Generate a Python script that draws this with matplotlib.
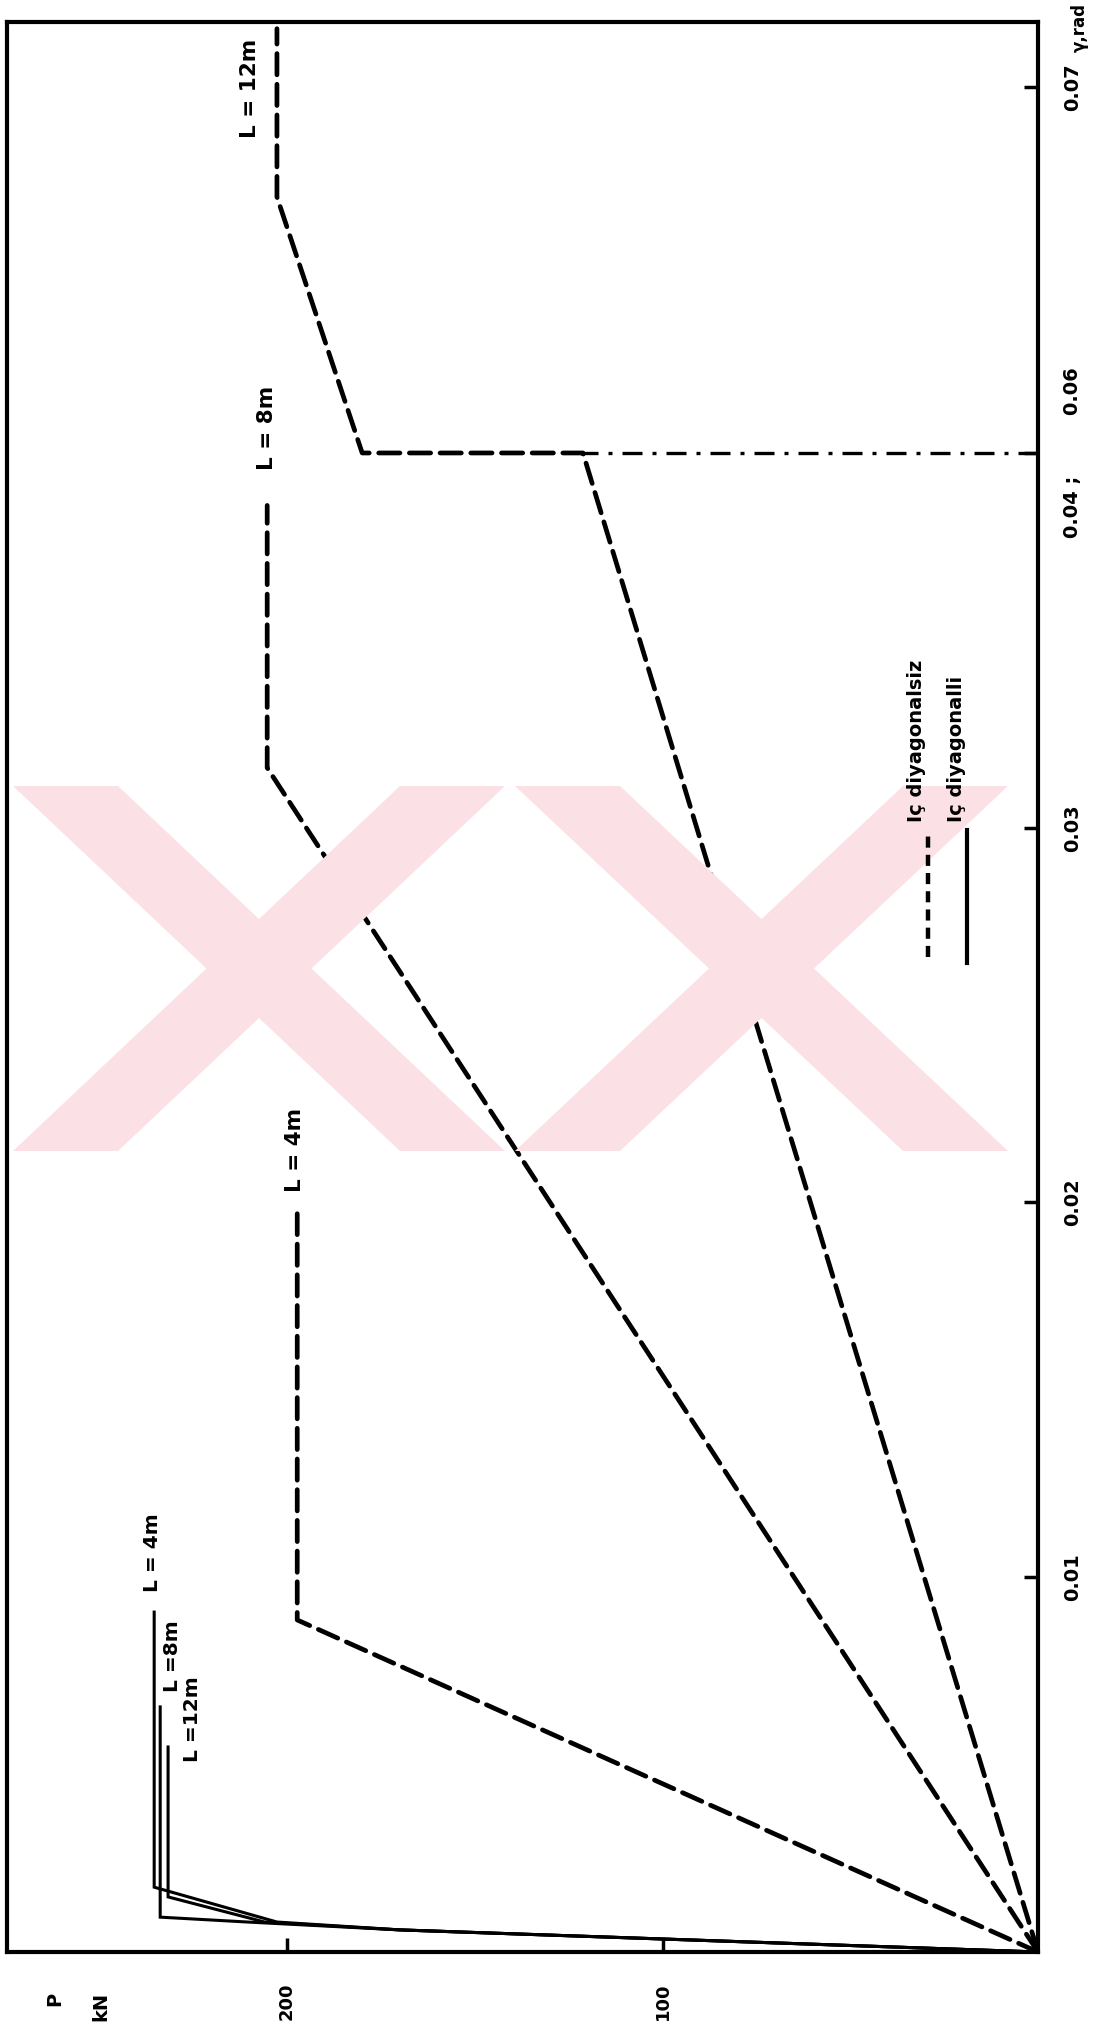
import numpy as np
import matplotlib
matplotlib.use("Agg")
import matplotlib.pyplot as plt
from matplotlib.patches import Polygon
from matplotlib.lines import Line2D

W, H = 1103, 2027
plt.rcParams["font.family"] = ["DejaVu Sans"]
plt.rcParams["font.weight"] = "bold"

# Shear strain gamma (rad) and load P (kN)
# Iç diyagonalsiz (dashed curves)
gamma_d_4m = [0.0, 0.00886, 0.0197]
load_d_4m = [0.0, 197.3, 197.3]
gamma_d_8m = [0.0, 0.0316, 0.0386]
load_d_8m = [0.0, 205.3, 205.3]
gamma_d_12m = [0.0, 0.0400, 0.0600, 0.0670, 0.0716]
load_d_12m = [0.0, 121.2, 180.0, 202.7, 202.7]

# Iç diyagonalli (solid curves)
gamma_s_4m = [0.0, 0.00059, 0.0008, 0.00173, 0.00907]
load_s_4m = [0.0, 170.0, 202.7, 235.4, 235.4]
gamma_s_8m = [0.0, 0.00059, 0.0008, 0.00093, 0.00654]
load_s_8m = [0.0, 170.0, 210.6, 233.8, 233.8]
gamma_s_12m = [0.0, 0.00059, 0.0008, 0.00147, 0.00547]
load_s_12m = [0.0, 170.0, 206.0, 231.7, 231.7]

# axis break: 0.04 and 0.06 share one position
break_lo, break_hi = 0.04, 0.06
upper_scale = 0.976
gamma_ticks = [0.01, 0.02, 0.03, 0.04, 0.07]
gamma_ticklabels = ["0.01", "0.02", "0.03", "0.04 ;         0.06", "0.07"]
load_ticks = [100, 200]
load_ticklabels = ["100", "200"]


def shown(g):
    g = np.asarray(g, dtype=float)
    upper = break_lo + (g - break_hi) * upper_scale
    return np.where(g >= 0.5 * (break_lo + break_hi), upper, g)


def fx(x):
    return x / W


def fy(y):
    return 1.0 - y / H


fig = plt.figure(figsize=(W / 100, H / 100), dpi=100)
fig.patch.set_facecolor("white")

# pale watermark bands behind the plot
wm_col = "#fbe1e6"
top, bot, bw = 786, 1151, 105
for left, right in [(13, 505), (515, 1008)]:
    b1 = [(left, top), (left + bw, top), (right, bot), (right - bw, bot)]
    b2 = [(right - bw, top), (right, top), (left + bw, bot), (left, bot)]
    for b in (b1, b2):
        fig.patches.append(Polygon([(fx(x), fy(y)) for x, y in b], closed=True,
                                   transform=fig.transFigure, facecolor=wm_col,
                                   edgecolor="none", zorder=0))

ax = fig.add_axes([fx(7), fy(1952), (1038 - 7) / W, (1952 - 22) / H])
ax.patch.set_alpha(0)

dash = (0, (4.5, 2.0))
for g, p in [(gamma_d_4m, load_d_4m), (gamma_d_8m, load_d_8m), (gamma_d_12m, load_d_12m)]:
    ax.plot(p, shown(g), color="black", lw=3.4, ls=dash, dash_capstyle="round",
            solid_joinstyle="miter")

# dash-dot line marking the break
ax.plot([0.0, load_d_12m[1]], shown([break_lo, break_lo]), color="black", lw=2.4,
        ls=(0, (6, 3, 1.2, 3)))

for g, p in [(gamma_s_4m, load_s_4m), (gamma_s_8m, load_s_8m), (gamma_s_12m, load_s_12m)]:
    ax.plot(p, shown(g), color="black", lw=2.2, solid_joinstyle="miter")

ax.set_xlim(274.6, 0.0)
ax.set_ylim(0.0, 0.0515)

for s in ax.spines.values():
    s.set_linewidth(3.0)

ax.set_xticks(load_ticks)
ax.set_xticklabels(load_ticklabels, rotation=90, fontsize=13, fontweight="bold")
ax.tick_params(axis="x", direction="in", length=10, width=2.5, pad=22)

ax.yaxis.tick_right()
ax.set_yticks(shown(gamma_ticks))
ax.set_yticklabels(gamma_ticklabels, rotation=90, fontsize=14, fontweight="bold",
                   va="center")
ax.tick_params(axis="y", direction="in", length=10, width=2.5, pad=18)

# curve labels
for txt, x, y, fs in [("L = 12m", 250, 88, 15.5), ("L = 8m", 267, 428, 15.5),
                      ("L = 4m", 295, 1150, 15.5), ("L = 4m", 152, 1553, 14.5),
                      ("L =8m", 173, 1656, 14.5), ("L =12m", 192, 1719, 14.5)]:
    fig.text(fx(x), fy(y), txt, rotation=90, ha="center", va="center",
             fontsize=fs, fontweight="bold")

# legend
fig.add_artist(Line2D([fx(928), fx(928)], [fy(957), fy(830)], color="black", lw=3.2,
                      ls=(0, (2.5, 1.6)), transform=fig.transFigure))
fig.add_artist(Line2D([fx(967), fx(967)], [fy(963), fy(830)], color="black", lw=3.0,
                      transform=fig.transFigure))
fig.text(fx(916), fy(822), "Iç diyagonalsiz", rotation=90, rotation_mode="anchor",
         ha="left", va="center", fontsize=14, fontweight="bold")
fig.text(fx(956), fy(822), "Iç diyagonalli", rotation=90, rotation_mode="anchor",
         ha="left", va="center", fontsize=14, fontweight="bold")

# axis titles
fig.text(fx(55), fy(1999), "P", rotation=90, ha="center", va="center",
         fontsize=14, fontweight="bold")
fig.text(fx(101), fy(2006), "kN", rotation=90, ha="center", va="center",
         fontsize=14, fontweight="bold")
fig.text(fx(1080), fy(52), "γ,rad", rotation=90, rotation_mode="anchor",
         ha="left", va="center", fontsize=12, fontweight="bold")

fig.savefig("out.png", dpi=100)
